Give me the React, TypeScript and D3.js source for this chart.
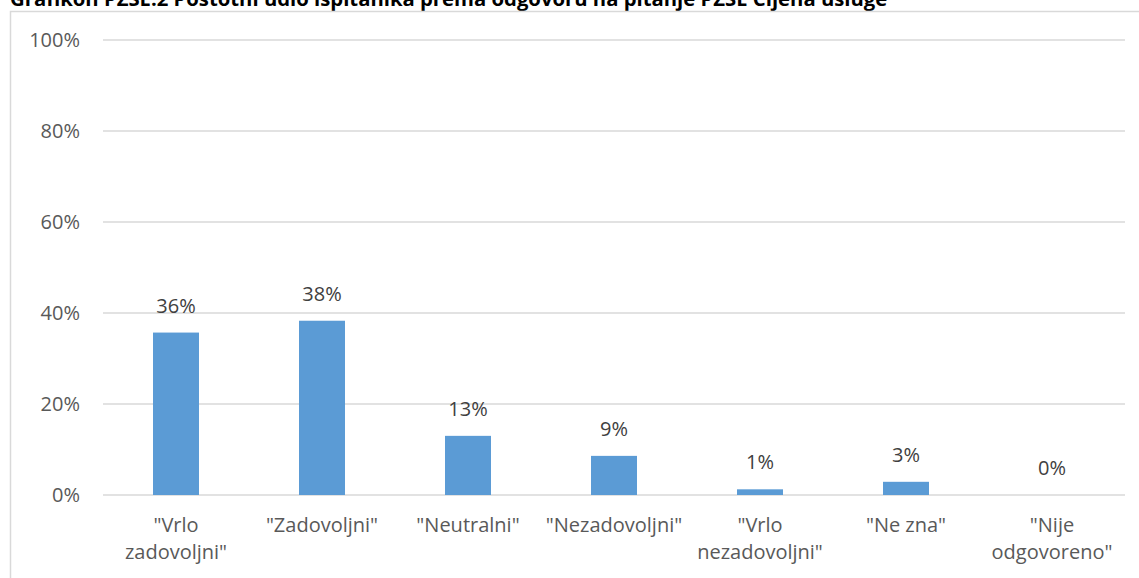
import React from "react";
import * as d3 from "d3";

const categories = [
  ["\"Vrlo", "zadovoljni\""],
  ["\"Zadovoljni\""],
  ["\"Neutralni\""],
  ["\"Nezadovoljni\""],
  ["\"Vrlo", "nezadovoljni\""],
  ["\"Ne zna\""],
  ["\"Nije", "odgovoreno\""],
];
const values = [35.7, 38.3, 13.0, 8.6, 1.25, 2.9, 0];
const valueLabels = ["36%", "38%", "13%", "9%", "1%", "3%", "0%"];
const yTicks = [0, 20, 40, 60, 80, 100];
const title = "Grafikon PZSE.2 Postotni udio ispitanika prema odgovoru na pitanje PZSE Cijena usluge";

export default function App() {
  const W = 1139, H = 578;
  const left = 103, right = 1125, top = 40, bottom = 495;
  const x = d3.scaleBand<number>().domain(d3.range(categories.length)).range([left, right]).paddingInner(0.685).paddingOuter(0.3425);
  const y = d3.scaleLinear().domain([0, 100]).range([bottom, top]);
  const font = "'Open Sans', sans-serif";
  const fs = 20;
  return (
    <svg width={W} height={H} style={{ position: "absolute", left: 0, top: 0, background: "#fff" }}>
      <text x={10} y={6} fontFamily={font} fontWeight="bold" fontSize={20.3} fill="#000">{title}</text>
      <rect x={10.5} y={11.5} width={1140} height={600} fill="#fff" stroke="#d9d9d9" strokeWidth={1.5} />
      {yTicks.map(t => (
        <g key={t}>
          <line x1={left} x2={right} y1={y(t)} y2={y(t)} stroke="#d9d9d9" strokeWidth={1.5} />
          <text x={80} y={y(t)} dy="0.35em" textAnchor="end" fontFamily={font} fontSize={fs} fill="#595959">{t}%</text>
        </g>
      ))}
      {values.map((v, i) => (
        <g key={i}>
          <rect x={x(i)} y={y(v)} width={x.bandwidth()} height={bottom - y(v)} fill="#5b9bd5" />
          <text x={(x(i) as number) + x.bandwidth() / 2} y={y(v) - 20} textAnchor="middle" fontFamily={font} fontSize={fs} fill="#404040">{valueLabels[i]}</text>
        </g>
      ))}
      {categories.map((lines, i) => (
        <text key={i} textAnchor="middle" fontFamily={font} fontSize={fs} fill="#595959">
          {lines.map((l, j) => (
            <tspan key={j} x={(x(i) as number) + x.bandwidth() / 2} y={532 + j * 27}>{l}</tspan>
          ))}
        </text>
      ))}
    </svg>
  );
}
